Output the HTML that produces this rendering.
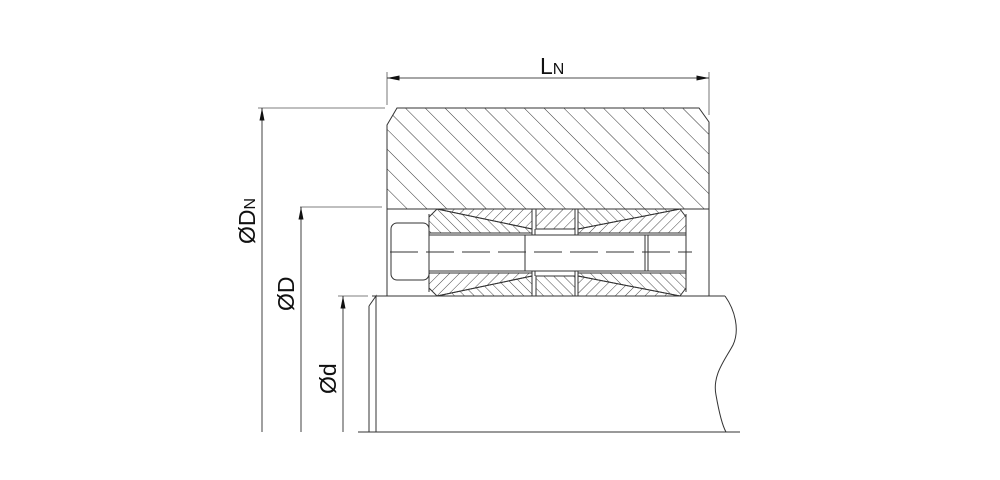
<!DOCTYPE html>
<html><head><meta charset="utf-8"><style>html,body{margin:0;padding:0;background:#fff;width:1000px;height:480px;overflow:hidden}</style></head>
<body>
<svg width="1000" height="480" viewBox="0 0 1000 480" xmlns="http://www.w3.org/2000/svg" font-family="Liberation Sans, sans-serif">
<defs>
<pattern id="hb" width="14" height="14" patternUnits="userSpaceOnUse" patternTransform="rotate(-45)"><line x1="0" y1="0" x2="0" y2="14" stroke="#333" stroke-width="1"/></pattern>
<pattern id="hs" width="7" height="7" patternUnits="userSpaceOnUse" patternTransform="rotate(-45)"><line x1="0" y1="0" x2="0" y2="7" stroke="#333" stroke-width="0.9"/></pattern>
<pattern id="hf" width="7" height="7" patternUnits="userSpaceOnUse" patternTransform="rotate(45)"><line x1="0" y1="0" x2="0" y2="7" stroke="#333" stroke-width="0.9"/></pattern>
<marker id="ar" viewBox="0 0 10 4" refX="10" refY="2" markerWidth="14" markerHeight="5" markerUnits="userSpaceOnUse" orient="auto"><path d="M0,0 L10,2 L0,4z" fill="#111"/></marker>
</defs>
<g stroke="#333" stroke-width="1" fill="none">
<path d="M397,108 L699,108 L709,122 L709,209 L387,209 L387,125 Z" fill="url(#hb)"/>
<path d="M387,209 L387,296 M709,209 L709,296"/>
<path d="M372,296 L725,296 M369,306 L376,296 L376,432 M369,306 L369,432 M358,432 L740,432"/>
<path d="M725,296 C735,310 740,330 733,345 C725,360 712,375 716,395 C719,412 722,425 726,432"/>
<rect x="391" y="223" width="38" height="57" rx="6"/>
<path d="M437,209 L532,229 L532,233 L429,233 L429,217 Z" fill="url(#hs)"/>
<path d="M437,209 L532,209 L532,229 Z" fill="url(#hf)"/>
<path d="M536,209 L575,209 L575,229 L536,229 Z" fill="url(#hf)"/>
<path d="M578,229 L680,209 L578,209 Z" fill="url(#hs)"/>
<path d="M578,229 L680,209 L686,217 L686,233 L578,233 Z" fill="url(#hf)"/>
<path d="M437,296 L532,276 L532,273 L429,273 L429,288 Z" fill="url(#hf)"/>
<path d="M437,296 L532,296 L532,276 Z" fill="url(#hs)"/>
<path d="M536,276 L575,276 L575,296 L536,296 Z" fill="url(#hs)"/>
<path d="M578,276 L680,296 L578,296 Z" fill="url(#hf)"/>
<path d="M578,276 L680,296 L686,288 L686,273 L578,273 Z" fill="url(#hs)"/>
<path d="M429,214 L429,292 M686,214 L686,292 M429,235 L686,235 M429,271 L686,271"/>
<path d="M525,235 L525,271 M645,235 L645,271 M648,235 L648,271"/>
<path d="M532,229 L532,235 M535,229 L535,235 M575,229 L575,235 M578,229 L578,235 M532,271 L532,276 M535,271 L535,276 M575,271 L575,276 M578,271 L578,276"/>
<line x1="390" y1="252" x2="692" y2="252" stroke-dasharray="28,8"/>
</g>
<g stroke="#555" stroke-width="0.8" fill="none">
<line x1="387" y1="72" x2="387" y2="105"/><line x1="709" y1="72" x2="709" y2="115"/>
<line x1="258" y1="108" x2="385" y2="108"/>
<line x1="300" y1="207" x2="382" y2="207"/>
<line x1="338" y1="296" x2="368" y2="296"/>
</g>
<g stroke="#111" stroke-width="0.8">
<line x1="548" y1="78" x2="387" y2="78" marker-end="url(#ar)"/>
<line x1="548" y1="78" x2="709" y2="78" marker-end="url(#ar)"/>
<line x1="262" y1="432" x2="262" y2="108" marker-end="url(#ar)"/>
<line x1="301" y1="432" x2="301" y2="207" marker-end="url(#ar)"/>
<line x1="343" y1="432" x2="343" y2="296" marker-end="url(#ar)"/>
</g>
<g fill="#111">
<text x="540" y="74" font-size="23">L<tspan font-size="16">N</tspan></text>
<text transform="translate(255,244) rotate(-90)" font-size="23">ØD<tspan font-size="16">N</tspan></text>
<text transform="translate(294,311) rotate(-90)" font-size="23">ØD</text>
<text transform="translate(336,394) rotate(-90)" font-size="23">Ød</text>
</g>
</svg>
</body></html>
